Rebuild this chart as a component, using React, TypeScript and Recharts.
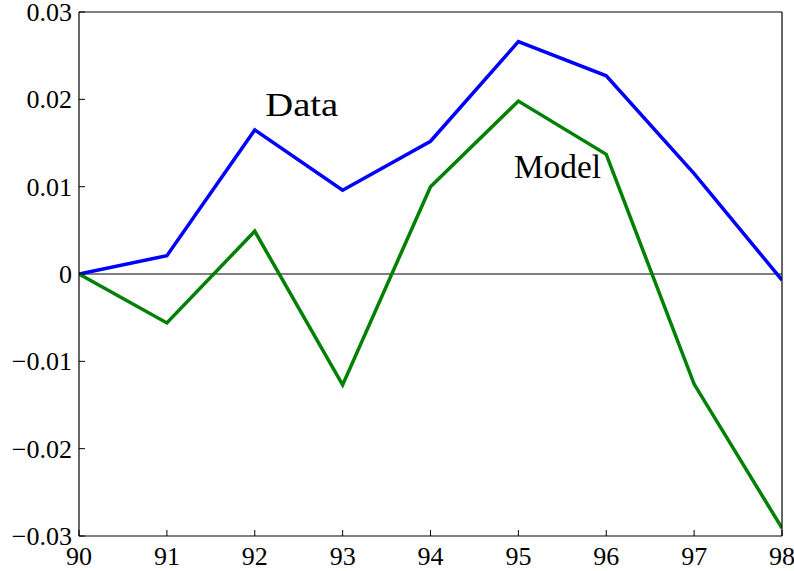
import React from 'react';
import {
  LineChart,
  Line,
  XAxis,
  YAxis,
  ReferenceLine,
  ReferenceDot,
} from 'recharts';

const years = [90, 91, 92, 93, 94, 95, 96, 97, 98];
const dataSeries = [0, 0.0021, 0.0165, 0.0096, 0.0152, 0.0266, 0.0227, 0.0115, -0.0007];
const modelSeries = [0, -0.0056, 0.0049, -0.0127, 0.01, 0.0198, 0.0137, -0.0126, -0.0291];
const yTicks = [-0.03, -0.02, -0.01, 0, 0.01, 0.02, 0.03];

const rows = years.map((year, i) => ({
  year,
  data: dataSeries[i],
  model: modelSeries[i],
}));

const FONT = '"Liberation Serif", "DejaVu Serif", serif';

const fmtY = (v: number) => {
  if (Math.abs(v) < 1e-9) return '0';
  const s = Math.abs(v).toFixed(2);
  return v < 0 ? `\u2212${s}` : s;
};

// text label drawn at a data coordinate (baseline-left)
const textShape = (label: string, len: number) => (props: any) => (
  <text
    x={props.cx}
    y={props.cy}
    fontFamily={FONT}
    fontSize={34}
    fill="#000"
    textLength={len}
    lengthAdjust="spacingAndGlyphs"
  >
    {label}
  </text>
);

const XTick = (props: any) => (
  <text
    x={props.x}
    y={props.y}
    dy={23}
    textAnchor="middle"
    fontFamily={FONT}
    fontSize={26}
    fill="#000"
  >
    {props.payload.value}
  </text>
);

const YTick = (props: any) => (
  <text
    x={props.x - 1}
    y={props.y}
    dy={9}
    textAnchor="end"
    fontFamily={FONT}
    fontSize={26}
    fill="#000"
  >
    {fmtY(props.payload.value)}
  </text>
);

export default function App() {
  return (
    <div style={{ position: 'absolute', left: 0, top: 0, background: '#fff' }}>
      <LineChart
        width={794}
        height={571}
        data={rows}
        margin={{ top: 0, right: 0, bottom: 0, left: 0 }}
      >
        <XAxis
          xAxisId="b"
          dataKey="year"
          type="number"
          domain={[90, 98]}
          ticks={years}
          height={35}
          tickSize={-6}
          tickMargin={12}
          tick={XTick}
          axisLine={{ stroke: '#000', strokeWidth: 1.2 }}
          tickLine={{ stroke: '#000' }}
          allowDataOverflow
        />
        <XAxis
          xAxisId="t"
          orientation="top"
          dataKey="year"
          type="number"
          domain={[90, 98]}
          ticks={years}
          height={12}
          tickSize={-6}
          tick={false}
          axisLine={{ stroke: '#000', strokeWidth: 1.2 }}
          tickLine={{ stroke: '#000' }}
        />
        <YAxis
          yAxisId="l"
          type="number"
          domain={[-0.03, 0.03]}
          ticks={yTicks}
          width={79}
          tickSize={-6}
          tickMargin={12}
          tick={YTick}
          axisLine={{ stroke: '#000', strokeWidth: 1.2 }}
          tickLine={{ stroke: '#000' }}
          allowDataOverflow
        />
        <YAxis
          yAxisId="r"
          orientation="right"
          type="number"
          domain={[-0.03, 0.03]}
          ticks={yTicks}
          width={12}
          tickSize={-6}
          tick={false}
          axisLine={{ stroke: '#000', strokeWidth: 1.2 }}
          tickLine={{ stroke: '#000' }}
        />
        <ReferenceLine xAxisId="b" yAxisId="l" y={0} stroke="#000" strokeWidth={1} />
        <Line
          xAxisId="b"
          yAxisId="l"
          type="linear"
          dataKey="data"
          stroke="#0000ff"
          strokeWidth={3.5}
          dot={false}
          isAnimationActive={false}
        />
        <Line
          xAxisId="b"
          yAxisId="l"
          type="linear"
          dataKey="model"
          stroke="#008000"
          strokeWidth={3.5}
          dot={false}
          isAnimationActive={false}
        />
        <ReferenceDot
          xAxisId="b"
          yAxisId="l"
          x={92.12}
          y={0.0181}
          r={0}
          shape={textShape('Data', 73)}
        />
        <ReferenceDot
          xAxisId="b"
          yAxisId="l"
          x={94.95}
          y={0.011}
          r={0}
          shape={textShape('Model', 87)}
        />
      </LineChart>
    </div>
  );
}
